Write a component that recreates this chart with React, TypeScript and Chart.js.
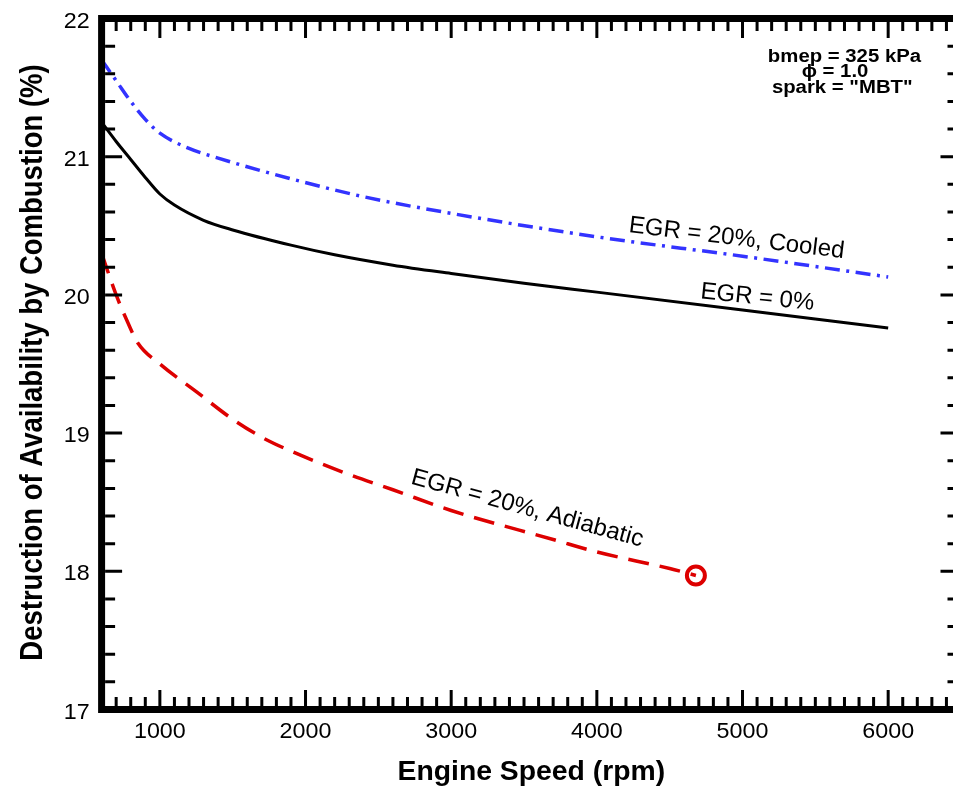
import React, { useEffect, useRef } from "react";
import { Chart, registerables } from "chart.js";

Chart.register(...registerables);

// ---- data (engine speed rpm, destruction of availability %) ----
const speedEgr0 = [600, 700, 800, 900, 1000, 1100, 1300, 1500, 1900, 2200, 2600, 3000, 3500, 4000, 5000, 6000];
const valuesEgr0 = [21.25, 21.11, 20.98, 20.85, 20.73, 20.65, 20.54, 20.47, 20.36, 20.29, 20.215, 20.155, 20.085, 20.02, 19.89, 19.76];

const speedCooled = [600, 700, 800, 900, 1000, 1200, 1400, 1900, 2400, 3000, 4000, 5000, 6000];
const valuesCooled = [21.7, 21.55, 21.4, 21.27, 21.17, 21.06, 20.99, 20.84, 20.71, 20.59, 20.42, 20.28, 20.13];

const speedAdiabatic = [600, 700, 780, 850, 1000, 1250, 1500, 1700, 1900, 2300, 2600, 3000, 3700, 4000, 4500, 4680];
const valuesAdiabatic = [20.3, 20.0, 19.8, 19.65, 19.5, 19.3, 19.1, 18.97, 18.87, 18.7, 18.59, 18.44, 18.23, 18.14, 18.02, 17.97];

const xTickValues = [1000, 2000, 3000, 4000, 5000, 6000];
const yTickValues = [17, 18, 19, 20, 21, 22];
const X_MIN = 600;
const X_MAX = 6500;
const Y_MIN = 17;
const Y_MAX = 22;
const X_MINOR_STEP = 100;
const Y_MINOR_STEP = 0.2;

const xTitle = "Engine Speed (rpm)";
const yTitle = "Destruction of Availability by Combustion (%)";

const curveLabels = [
  { text: "EGR = 20%, Cooled", x: 4954, y: 20.361, angle: 6.9 },
  { text: "EGR = 0%", x: 5097, y: 19.933, angle: 5.9 },
  { text: "EGR = 20%, Adiabatic", x: 3510, y: 18.407, angle: 15.3 },
];

const noteLines = [
  { text: "bmep = 325 kPa", x: 5700, y: 21.685 },
  { text: "\u03d5 = 1.0", x: 5635, y: 21.575 },
  { text: 'spark = "MBT"', x: 5685, y: 21.46 },
];

const FONT = '"Liberation Sans", Arial, Helvetica, sans-serif';

function drawText(
  ctx: CanvasRenderingContext2D,
  text: string,
  x: number,
  y: number,
  font: string,
  align: CanvasTextAlign,
  baseline: CanvasTextBaseline,
  sx = 1,
  rot = 0
) {
  ctx.save();
  ctx.translate(x, y);
  ctx.scale(sx, 1);
  ctx.rotate(rot);
  ctx.font = font;
  ctx.textAlign = align;
  ctx.textBaseline = baseline;
  ctx.fillStyle = "#000";
  ctx.fillText(text, 0, 0);
  ctx.restore();
}

const framePlugin = {
  id: "frame",
  afterDraw(chart: any) {
    const ctx: CanvasRenderingContext2D = chart.ctx;
    const { left, right, top, bottom } = chart.chartArea;
    const xs = chart.scales.x;
    const ys = chart.scales.y;
    const bw = 7;
    const half = bw / 2;

    ctx.save();
    ctx.strokeStyle = "#000";
    ctx.lineCap = "butt";

    // ticks
    ctx.lineWidth = 3;
    const minorLen = 9;
    const majorLen = 16;
    const nx = Math.round((X_MAX - X_MIN) / X_MINOR_STEP);
    for (let i = 1; i < nx; i++) {
      const v = X_MIN + i * X_MINOR_STEP;
      const isMajor = xTickValues.includes(v);
      const len = isMajor ? majorLen : minorLen;
      const px = xs.getPixelForValue(v);
      ctx.beginPath();
      ctx.moveTo(px, bottom - half);
      ctx.lineTo(px, bottom - half - len);
      ctx.moveTo(px, top + half);
      ctx.lineTo(px, top + half + len);
      ctx.stroke();
    }
    const ny = Math.round((Y_MAX - Y_MIN) / Y_MINOR_STEP);
    for (let i = 1; i < ny; i++) {
      const v = Y_MIN + i * Y_MINOR_STEP;
      const isMajor = yTickValues.some((t) => Math.abs(t - v) < 1e-6);
      const len = isMajor ? majorLen + 1 : minorLen + 1;
      const py = ys.getPixelForValue(v);
      ctx.beginPath();
      ctx.moveTo(left + half, py);
      ctx.lineTo(left + half + len, py);
      ctx.moveTo(right - half, py);
      ctx.lineTo(right - half - len, py);
      ctx.stroke();
    }

    // frame
    ctx.lineWidth = bw;
    ctx.lineJoin = "miter";
    ctx.strokeRect(left, top, right - left, bottom - top);
    ctx.restore();

    // tick labels
    const tickFont = `22px ${FONT}`;
    xTickValues.forEach((v) => {
      drawText(ctx, String(v), xs.getPixelForValue(v), bottom + 28, tickFont, "center", "alphabetic", 1.06);
    });
    yTickValues.forEach((v) => {
      drawText(ctx, String(v), left - 12, ys.getPixelForValue(v) + 9, tickFont, "right", "alphabetic", 1.06);
    });

    // axis titles
    const titleFont = `bold 27.5px ${FONT}`;
    drawText(ctx, xTitle, (left + right) / 2, 780, titleFont, "center", "alphabetic", 1.03);
    drawText(ctx, yTitle, 41.5, (top + bottom) / 2 - 1.5, titleFont, "center", "alphabetic", 1.15, -Math.PI / 2);

    // curve labels
    curveLabels.forEach((l) => {
      drawText(
        ctx,
        l.text,
        xs.getPixelForValue(l.x),
        ys.getPixelForValue(l.y),
        `24px ${FONT}`,
        "center",
        "alphabetic",
        1,
        (l.angle * Math.PI) / 180
      );
    });

    // note block
    noteLines.forEach((l) => {
      drawText(ctx, l.text, xs.getPixelForValue(l.x), ys.getPixelForValue(l.y), `bold 18px ${FONT}`, "center", "alphabetic", 1.13);
    });
  },
};

const toPoints = (xs: number[], ys: number[]) => xs.map((x, i) => ({ x, y: ys[i] }));

export default function App() {
  const ref = useRef<HTMLCanvasElement | null>(null);

  useEffect(() => {
    if (!ref.current) return;
    const lastIdx = speedAdiabatic.length - 1;
    const chart = new Chart(ref.current, {
      type: "line",
      data: {
        datasets: [
          {
            label: "EGR = 0%",
            data: toPoints(speedEgr0, valuesEgr0),
            borderColor: "#000000",
            borderWidth: 3,
            pointRadius: 0,
            cubicInterpolationMode: "monotone",
            fill: false,
          },
          {
            label: "EGR = 20%, Cooled",
            data: toPoints(speedCooled, valuesCooled),
            borderColor: "#3333ff",
            borderWidth: 3.5,
            borderDash: [15, 6.5, 3, 6.5],
            pointRadius: 0,
            cubicInterpolationMode: "monotone",
            fill: false,
          },
          {
            label: "EGR = 20%, Adiabatic",
            data: toPoints(speedAdiabatic, valuesAdiabatic),
            borderColor: "#dd0000",
            borderWidth: 3.5,
            borderDash: [21, 11],
            pointRadius: 0,
            cubicInterpolationMode: "monotone",
            fill: false,
          },
          {
            label: "end",
            data: [{ x: speedAdiabatic[lastIdx], y: valuesAdiabatic[lastIdx] }],
            showLine: false,
            pointRadius: 9,
            pointBorderWidth: 4,
            pointBorderColor: "#dd0000",
            pointBackgroundColor: "rgba(0,0,0,0)",
            borderColor: "#dd0000",
          },
        ],
      },
      options: {
        responsive: false,
        animation: false,
        devicePixelRatio: 1,
        layout: { padding: { left: 101.6, top: 18.5, right: 14, bottom: 83.5 } },
        plugins: { legend: { display: false }, tooltip: { enabled: false } },
        scales: {
          x: { type: "linear", min: X_MIN, max: X_MAX, display: false },
          y: { type: "linear", min: Y_MIN, max: Y_MAX, display: false },
        },
      },
      plugins: [framePlugin],
    } as any);
    return () => chart.destroy();
  }, []);

  return (
    <div style={{ position: "fixed", left: 0, top: 0, width: 953, height: 793, overflow: "hidden", background: "#fff" }}>
      <canvas ref={ref} width={975} height={793} style={{ display: "block" }} />
    </div>
  );
}
